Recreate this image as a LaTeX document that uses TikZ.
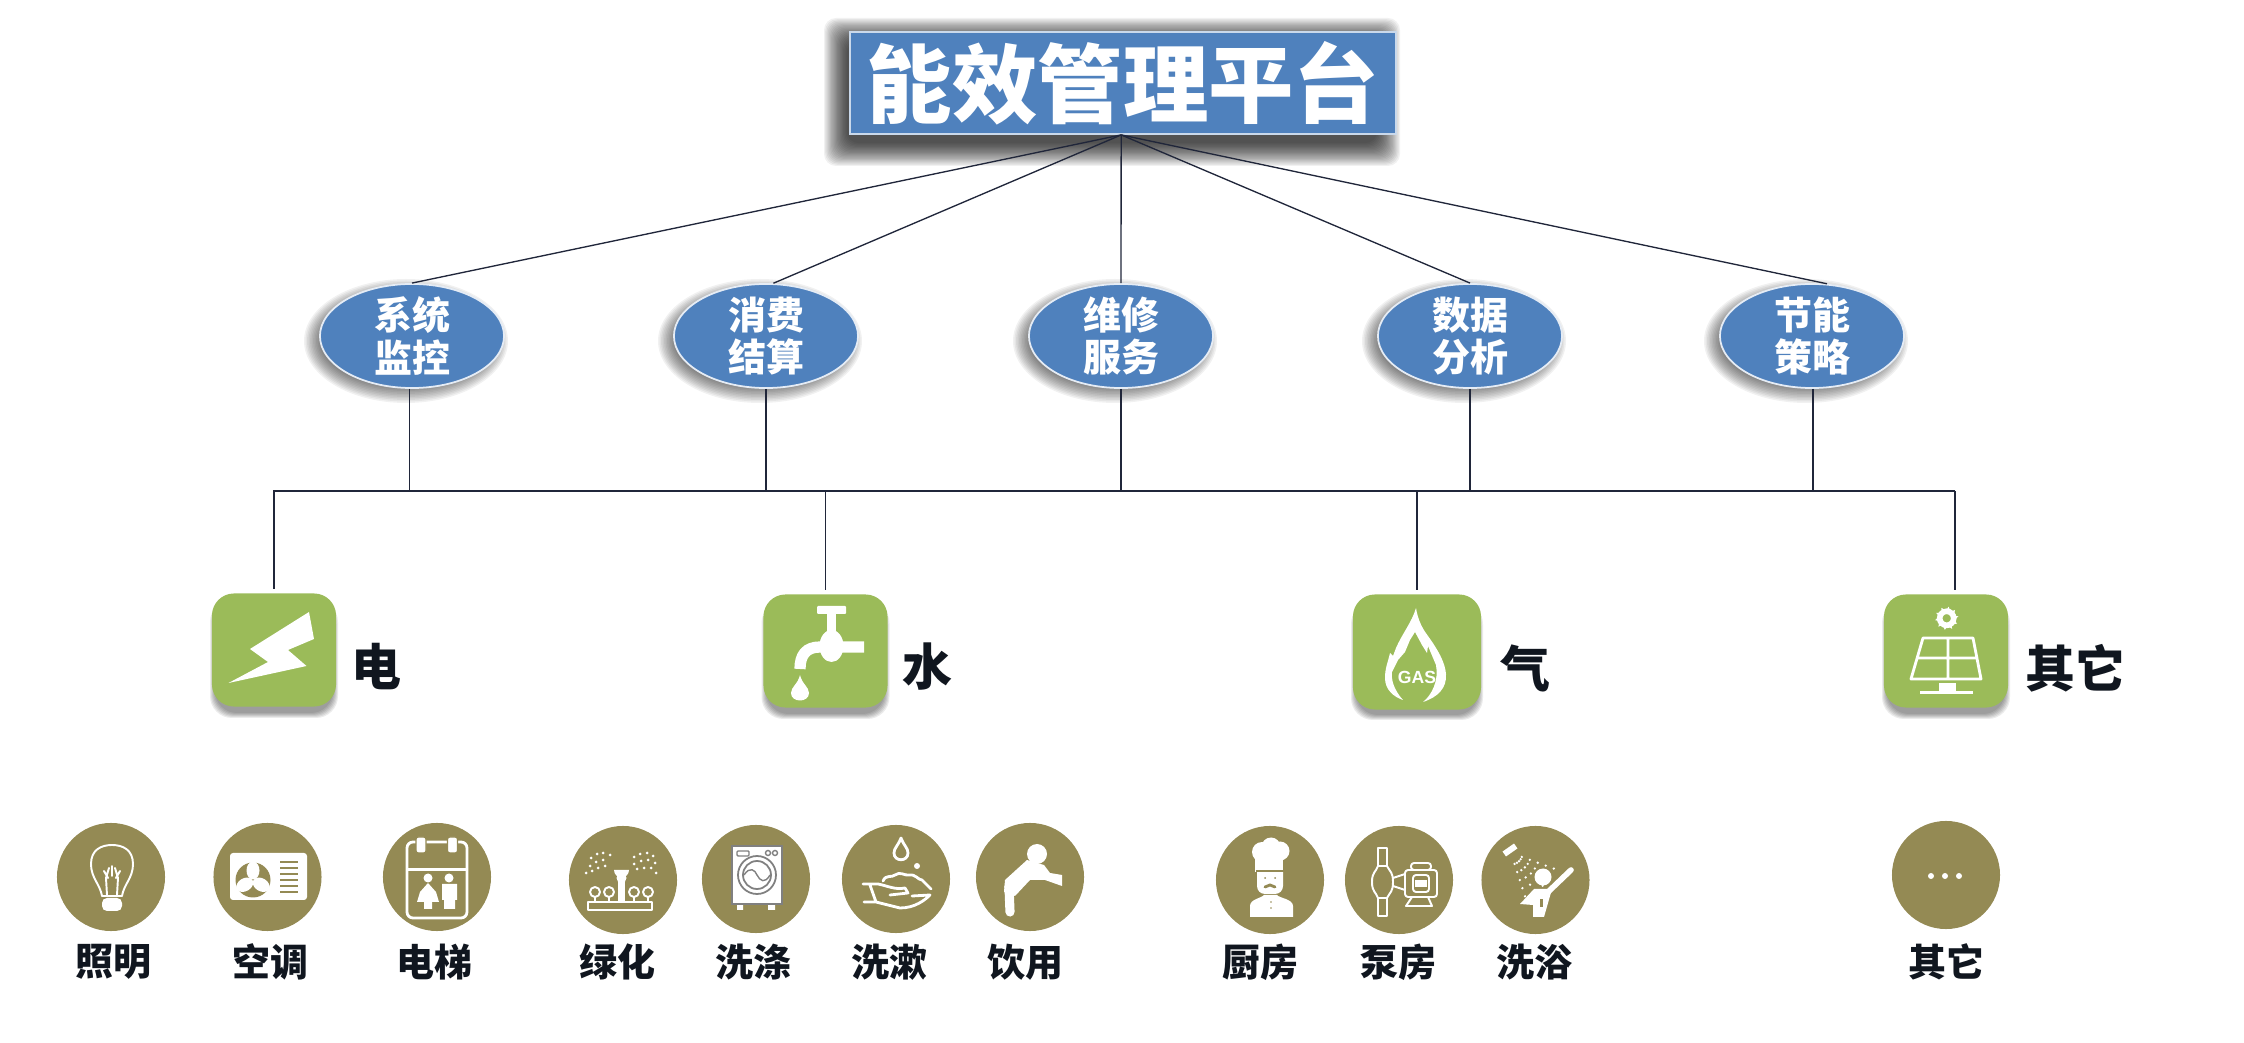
\documentclass[tikz,border=0pt]{standalone}
\usepackage{xcolor}
\usepackage{fontspec}
\setmainfont{Noto Sans CJK SC}
\newfontfamily\latinbold{Liberation Sans}
\usetikzlibrary{positioning,calc,shapes.geometric}
\definecolor{ink}{HTML}{10161F}
\definecolor{wire}{HTML}{20263A}
\definecolor{boxb}{HTML}{4F81BD}
\definecolor{leaf}{HTML}{9BBB59}
\definecolor{tan}{HTML}{948A54}
\tikzset{
  titlebox/.style={rectangle,draw=white!70!boxb,line width=0.5pt,fill=boxb,text=white,inner sep=0pt,
    minimum width=5.46cm,minimum height=1.02cm,font=\bfseries\fontsize{24.3}{28}\selectfont},
  funcell/.style={ellipse,draw=white!85!boxb,line width=0.5pt,fill=boxb,text=white,inner sep=-4pt,align=center,
    minimum width=1.84cm,minimum height=1.04cm,font=\bfseries\fontsize{10.8}{12}\selectfont},
  kindbox/.style={rectangle,rounded corners=0.22cm,fill=leaf,inner sep=0pt,minimum width=1.24cm,minimum height=1.13cm},
  usedisc/.style={circle,fill=tan,inner sep=0pt,minimum size=1.08cm},
  kindtxt/.style={text=ink,inner sep=0pt,font=\bfseries\fontsize{14.2}{16}\selectfont},
  usetxt/.style={text=ink,inner sep=0pt,font=\bfseries\fontsize{10.8}{12}\selectfont},
  wireln/.style={wire,line width=0.38pt},
  iconln/.style={white,line width=0.55pt,line cap=round,line join=round},
}
\begin{document}
\begin{tikzpicture}[x=0.01cm,y=-0.01cm]
\useasboundingbox (0,0) rectangle (2244,1043);
% soft shadows, stacked
\foreach \s in {0,...,19}
  \fill[black,opacity=0.055,rounded corners=0.12cm] ({824+1.2*\s},{18+1.2*\s}) rectangle ({1400-1.2*\s},{166-1.2*\s});
\foreach \x in {412,766,1121,1470,1812}
  \foreach \s in {0,...,11}
    \fill[black,opacity=0.055] ({\x-6},341) ellipse [x radius={102-1.5*\s},y radius={62-1.5*\s}];
\foreach \x/\y/\w in {274/650/62,825.5/651/62,1417/652/64,1946/651/62}
  \foreach \s in {0,...,5}
    \fill[black,opacity=0.08,rounded corners=0.22cm] ({\x-\w-2+\s},{\y-50+\s}) rectangle ({\x+\w+2-\s},{\y+68-\s});
% title and function ellipses
\node[titlebox] (title) at (1123,83) {能效管理平台};
\node[funcell] (monitor) at (412,336) {系统\\监控};
\node[funcell] (billing) at (766,336) {消费\\结算};
\node[funcell] (repair) at (1121,336) {维修\\服务};
\node[funcell] (analysis) at (1470,336) {数据\\分析};
\node[funcell] (saving) at (1812,336) {节能\\策略};
% energy kinds
\node[kindbox] (elec) at (274,650) {};
\node[kindbox] (water) at (825.5,651) {};
\node[kindbox,minimum width=1.28cm,minimum height=1.15cm] (gas) at (1417,652) {};
\node[kindbox] (other) at (1946,651) {};
\node[kindtxt] (elect) at (376,667) {电};
\node[kindtxt] (watert) at (927,667) {水};
\node[kindtxt] (gast) at (1525,668) {气};
\node[kindtxt] (othert) at (2075,668) {其它};
% uses: discs and labels
\foreach \nm/\x/\y/\lx/\txt in {light/111/877/113/照明,cool/267.5/877/270/空调,lift/437/877/434/电梯,
    green/623/880/617/绿化,laundry/756/879/753/洗涤,rinse/896/879/889/洗漱,drink/1030/877/1025/饮用,
    kitchen/1270/880/1260/厨房,pump/1399/880/1398/泵房,bath/1535.5/880/1534/洗浴,misc/1946/875/1946/其它} {
  \node[usedisc] (\nm) at (\x,\y) {};
  \node[usetxt] (\nm t) at (\lx,962) {\txt};
}
% connectors
\coordinate (busl) at (273,491);
\coordinate (busr) at (1955,491);
\draw[wireln] (title.268) -- (monitor.north);
\draw[wireln] (title.268) -- (billing.82);
\draw[wireln] (title.268) -- (repair.north);
\draw[wireln] (title.268) -- (analysis.north);
\draw[wireln] (title.268) -- (saving.74);
\draw[wireln] (busl) -- (busr);
\foreach \a in {monitor.267,billing.south,repair.south,analysis.south,saving.271}
  \draw[wireln] (\a) -- (\a |- busl);
\foreach \a in {elec.north,water.north,gas.north,other.81}
  \draw[wireln,shorten >=0.04cm] (\a |- busl) -- (\a);
% bolt
\fill[white] (309,612) -- (314,639) -- (288,650) -- (306.5,666) -- (228.5,683) -- (268,662) -- (250,649) -- cycle;
% tap
\fill[white,rounded corners=0.01cm] (817,606) rectangle (846,614);
\fill[white] (827,614) rectangle (836,632);
\fill[white] (831.5,646) ellipse [x radius=12,y radius=16];
\draw[white,line width=3.2pt] (864,647) -- (820,647) .. controls (806,647) and (800,655) .. (800,669);
\fill[white] (800,675) .. controls (802,684) and (809,687) .. (809,693) .. controls (809,703) and (791,703) .. (791,693) .. controls (791,687) and (798,684) .. (800,675) -- cycle;
% flame
\fill[white] (1416,608) .. controls (1412,622) and (1402,634) .. (1396,648) -- (1393,656) -- (1390,653) .. controls (1388,662) and (1385,668) .. (1385,678) .. controls (1385,690) and (1394,697) .. (1403,700)
  .. controls (1394,690) and (1391,680) .. (1392,672) -- (1398,660) -- (1405,652) -- (1410,640) -- (1415,632)
  -- (1422,645) -- (1427,653) -- (1428,646) -- (1436,665) .. controls (1439,680) and (1432,695) .. (1423,702)
  .. controls (1438,697) and (1447,688) .. (1446,674) .. controls (1445,662) and (1438,650) .. (1428,636) .. controls (1422,628) and (1418,620) .. (1416,608) -- cycle;
\node[inner sep=0pt,text=white,font=\latinbold\bfseries\fontsize{5}{6}\selectfont] (gaslbl) at (1417,677) {GAS};
% solar panel
\foreach \a in {0,36,...,324}
  \fill[white] (1946.7,618.3) ++(\a:6) -- ++(\a+50:7) -- ++(\a+175:4) -- cycle;
\draw[white,line width=1.6pt] (1946.7,618.3) circle [radius=7];
\draw[white,line width=0.8pt,line join=round] (1923,638) -- (1973,638) -- (1981,679) -- (1911,679) -- cycle (1948,638) -- (1948,679) (1917,658) -- (1977,658);
\fill[white] (1939,683) rectangle (1956,691);
\fill[white] (1920,691) rectangle (1973,694);
% bulb
\draw[iconln] (102,896) .. controls (100,884) and (91,878) .. (91,864) .. controls (91,850) and (101,845) .. (112,845) .. controls (123,845) and (133,850) .. (133,864) .. controls (133,878) and (124,884) .. (122,896) -- cycle;
\draw[iconln] (107,895) -- (106,878) -- (109,868) (117,895) -- (118,878) -- (115,868) (104,871) -- (108,878) (120,871) -- (116,878) (112,866) -- (112,876);
\fill[white,rounded corners=0.05cm] (102,898) rectangle (122,911);
% outdoor unit
\fill[white,rounded corners=0.03cm] (230,853) rectangle (307,900);
\fill[tan] (253,880) circle [radius=17.5];
\foreach \a in {90,210,330}
  \fill[white,rotate around={\a:(253,880)}] (262.5,880) ellipse [x radius=9,y radius=6.5];
\foreach \y in {862,868,...,892}
  \draw[tan,line width=0.6pt] (280,\y) -- (298,\y);
% lift
\draw[white,line width=0.8pt,rounded corners=0.06cm] (407,842) rectangle (467,918);
\fill[white] (407,868) rectangle (467,871);
\foreach \x in {421,452.5} {
  \fill[white,rounded corners=0.02cm,draw=tan,line width=0.4pt] (\x-5,837) rectangle (\x+5,853);
}
\fill[white] (428,878) circle [radius=4.5] (449,878) circle [radius=4.5];
\fill[white] (428,883) -- (436,892) -- (439,902) -- (432,902) -- (432,909) -- (424,909) -- (424,902) -- (417,902) -- (420,892) -- cycle;
\fill[white] (442,884) rectangle (457,900) (444,900) rectangle (455,909);
% sprinkler
\draw[iconln] (588,902) rectangle (652,910);
\foreach \x in {595,609,634,648} {
  \draw[iconln] (\x,892) circle [radius=5];
  \draw[iconln] (\x,897) -- (\x,902);
}
\fill[white] (618,872) rectangle (625,902);
\fill[white] (621.5,878) circle [radius=5];
\fill[white] (614,870) arc [start angle=180,end angle=0,radius=7.5] -- cycle;
\foreach \x/\y in {591/858,597/854,603/853,610/855,590/866,596/862,603/860,586/873,592/871,598/868,605/866,
    634/857,640/854,647/853,653/856,634/864,641/861,648/860,655/863,637/869,644/868,651/868,656/873}
  \fill[white] (\x,\y) circle [radius=1.5];
% washing machine
\fill[white] (732,846) rectangle (782,904);
\fill[white] (737,904) rectangle (743,910) (768,904) rectangle (775,910);
\draw[gray,line width=0.4pt] (732,846) rectangle (782,904);
\draw[gray,line width=0.4pt,rounded corners=0.01cm] (737,851) rectangle (749,856);
\draw[gray,line width=0.4pt] (768,853) circle [radius=2.5] (775,853) circle [radius=2.5];
\draw[gray,line width=0.5pt] (757,875) circle [radius=19] (757,875) circle [radius=14];
\draw[gray,line width=0.4pt] (744,875) .. controls (750,866) and (755,870) .. (757,875) .. controls (760,881) and (765,884) .. (770,875);
% washing hands
\draw[iconln,line width=0.8pt] (901,838) .. controls (898,846) and (894,848) .. (894,853) .. controls (894,862) and (908,862) .. (908,853) .. controls (908,848) and (904,846) .. (901,838) -- cycle;
\fill[white] (917,866) circle [radius=3];
\draw[iconln,line width=0.8pt] (883,881) .. controls (886,874) and (892,878) .. (895,875) .. controls (900,871) and (905,876) .. (909,875) .. controls (916,874) and (918,880) .. (922,880) -- (931,889);
\draw[iconln,line width=0.8pt] (863,884) -- (878,884) .. controls (888,886) and (895,890) .. (905,888) -- (908,893) -- (890,895) (870,885) -- (876,902) -- (864,902) (876,902) -- (900,908) .. controls (915,908) and (925,900) .. (930,895) -- (912,896);
% drinking figure
\fill[white] (1037,854) circle [radius=10];
\draw[white,line width=2.6pt,line cap=round,line join=round] (1010,912) -- (1009,886);
\fill[white] (1027,860) -- (1044,865) -- (1050,873) -- (1062,875) -- (1062,886) -- (1045,880) -- (1030,880) -- (1015,896) -- (1004,892) -- (1005,880) -- cycle;
% chef
\fill[white] (1262,852) circle [radius=10] (1280,851) circle [radius=9.5] (1271,847) circle [radius=9.5];
\fill[white] (1255,852) rectangle (1283,872);
\fill[white,rounded corners=0.08cm] (1257,864) rectangle (1283,894);
\draw[tan,line width=0.4pt] (1256,871) -- (1284,871);
\draw[tan,line width=0.8pt,line cap=round] (1265,887) -- (1270,885) -- (1275,887);
\fill[tan] (1265,878) circle [radius=1] (1275,878) circle [radius=1];
\fill[white] (1250,917) -- (1250,906) .. controls (1250,899) and (1262,898) .. (1264,895) -- (1277,895) .. controls (1279,898) and (1293,899) .. (1293,906) -- (1293,917) -- cycle;
\foreach \y in {902,908} \fill[tan] (1271,\y) circle [radius=0.9];
% pump
\draw[iconln] (1378,848) rectangle (1387,866) (1378,898) rectangle (1387,916);
\draw[iconln] (1378,866) .. controls (1376,872) and (1372,872) .. (1372,882) .. controls (1372,892) and (1376,892) .. (1378,898) (1387,866) .. controls (1390,872) and (1393,872) .. (1393,882) .. controls (1393,892) and (1390,892) .. (1387,898);
\draw[iconln,rounded corners=0.03cm] (1405,870) rectangle (1437,897) (1411,863) rectangle (1431,870) (1413,875) rectangle (1429,892);
\draw[iconln] (1393,878) -- (1405,874) (1393,886) -- (1405,890) (1412,897) -- (1406,906) -- (1432,906) -- (1428,897);
\fill[white] (1415,880) rectangle (1427,887);
% shower
\fill[white,rotate around={35:(1510,850)}] (1503,847) rectangle (1517,853);
\foreach \d in {1,...,5}
  \foreach \a in {20,33,46,59,72}
    \fill[white] (1511,853) ++(\a:{3+\d*8.5}) circle [radius=1.3];
\fill[white] (1543,877) circle [radius=8.5];
\draw[white,line width=1.6pt,line cap=round] (1548,892) -- (1571,870);
\fill[white] (1534,889) -- (1552,889) -- (1544,917) -- (1533,917) -- (1533,905) -- (1520,904) -- cycle;
\fill[tan] (1540,899) rectangle (1543,907);
% dots
\foreach \x in {1931,1945,1959}
  \fill[white] (\x,876) circle [radius=3];
\end{tikzpicture}
\end{document}
